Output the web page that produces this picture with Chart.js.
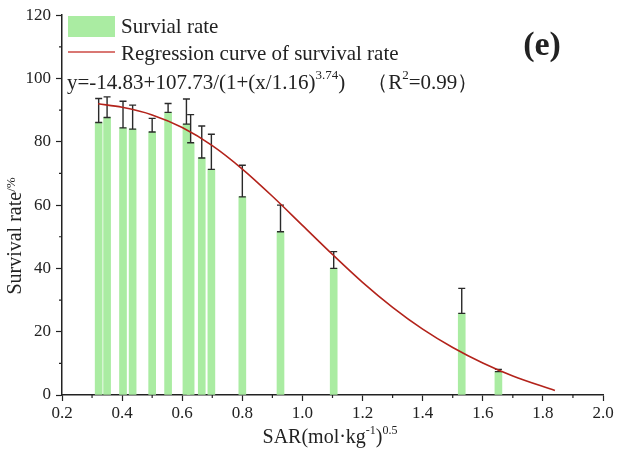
<!DOCTYPE html>
<html lang="en">
<head>
<meta charset="UTF-8">
<title>Survival rate vs SAR</title>
<script src="https://cdn.jsdelivr.net/npm/chart.js"></script>
<style>
  html, body { margin: 0; padding: 0; background: #fff; }
  #wrap { width: 640px; height: 451px; }
</style>
</head>
<body>
<div id="wrap"><canvas id="sar_chart" width="640" height="451"></canvas></div>
<script>
// bar positions (SAR) and survival rate (bar top), plus the upper end of each error bar
const sarX     = [0.322, 0.350, 0.403, 0.435, 0.500, 0.553, 0.614, 0.628, 0.665, 0.697, 0.800, 0.927, 1.104, 1.530, 1.652];
const survival = [86.1, 87.7, 84.4, 84.0, 83.1, 89.3, 85.6, 79.7, 74.9, 71.3, 62.6, 51.6, 40.0, 25.8, 7.4];
const errHigh  = [93.7, 94.2, 92.8, 91.6, 87.4, 92.1, 93.5, 88.6, 85.0, 82.4, 72.6, 60.0, 45.3, 33.7, 8.1];

// regression curve
const curveX = [0.32, 0.40, 0.50, 0.60, 0.70, 0.80, 0.90, 1.00, 1.10, 1.20, 1.30, 1.40, 1.50, 1.60, 1.70, 1.84];
const curveY = [92.0, 90.9, 88.5, 84.5, 78.8, 71.4, 62.8, 53.6, 44.4, 35.6, 27.7, 20.8, 15.0, 10.1, 6.0, 1.4];

const xTicks = [0.2, 0.4, 0.6, 0.8, 1.0, 1.2, 1.4, 1.6, 1.8, 2.0];
const yTicks = [0, 20, 40, 60, 80, 100, 120];

const barGreen = "#aaeca2";
const curveRed = "#b3231b";
const serif = "'Liberation Serif', 'DejaVu Serif', serif";

// draws text pieces in a row, some raised as superscripts
function drawRuns(ctx, runs, x, y, size) {
    let cx = x;
    runs.forEach(r => {
        const s = r.sup ? Math.round(size * 0.6) : size;
        ctx.font = s + "px " + serif;
        ctx.fillText(r.t, cx, r.sup ? y - size * 0.36 : y);
        cx += ctx.measureText(r.t).width;
    });
    return cx;
}
function runsWidth(ctx, runs, size) {
    let w = 0;
    runs.forEach(r => {
        ctx.font = (r.sup ? Math.round(size * 0.6) : size) + "px " + serif;
        w += ctx.measureText(r.t).width;
    });
    return w;
}

const extras = {
    id: "extras",
    afterDatasetDraw(chart, args) {
        if (args.index !== 1) return;
        // error bars on top of the green bars
        const ctx = chart.ctx, xs = chart.scales.x, ys = chart.scales.y;
        ctx.save();
        ctx.strokeStyle = "#2a2a2a";
        ctx.lineWidth = 1.4;
        sarX.forEach((v, i) => {
            const px = xs.getPixelForValue(v);
            const lo = ys.getPixelForValue(survival[i]);
            const hi = ys.getPixelForValue(errHigh[i]);
            ctx.beginPath();
            ctx.moveTo(px, lo); ctx.lineTo(px, hi);
            ctx.moveTo(px - 3.5, lo); ctx.lineTo(px + 3.5, lo);
            ctx.moveTo(px - 3.5, hi); ctx.lineTo(px + 3.5, hi);
            ctx.stroke();
        });
        ctx.restore();
    },
    afterDraw(chart) {
        const ctx = chart.ctx, xs = chart.scales.x, ys = chart.scales.y;
        const area = chart.chartArea;
        ctx.save();
        // minor ticks
        ctx.strokeStyle = "#222";
        ctx.lineWidth = 1.2;
        ctx.beginPath();
        for (let i = 0; i < xTicks.length - 1; i++) {
            const px = xs.getPixelForValue((xTicks[i] + xTicks[i + 1]) / 2);
            ctx.moveTo(px, area.bottom); ctx.lineTo(px, area.bottom + 3);
        }
        for (let i = 0; i < yTicks.length - 1; i++) {
            const py = ys.getPixelForValue((yTicks[i] + yTicks[i + 1]) / 2);
            ctx.moveTo(area.left, py); ctx.lineTo(area.left - 3, py);
        }
        ctx.stroke();

        // legend
        ctx.fillStyle = barGreen;
        ctx.fillRect(68, 16, 47, 21);
        ctx.strokeStyle = "#cc4a44";
        ctx.lineWidth = 1.5;
        ctx.beginPath(); ctx.moveTo(68, 52); ctx.lineTo(115, 52); ctx.stroke();
        ctx.fillStyle = "#222";
        ctx.textBaseline = "middle";
        ctx.textAlign = "left";
        ctx.font = "21px " + serif;
        ctx.fillText("Survial rate", 121, 27);
        ctx.fillText("Regression curve of survival rate", 121, 54);

        // fitted equation
        const eq = drawRuns(ctx, [
            { t: "y=-14.83+107.73/(1+(x/1.16)" }, { t: "3.74", sup: true }, { t: ")" }
        ], 67, 83, 21);
        drawRuns(ctx, [{ t: "（R" }, { t: "2", sup: true }, { t: "=0.99）" }], eq + 22, 83, 21);

        // panel letter
        ctx.font = "bold 34px " + serif;
        ctx.textAlign = "center";
        ctx.fillText("(e)", 542, 46);

        // x axis title
        const xt = [{ t: "SAR(mol·kg" }, { t: "-1", sup: true }, { t: ")" }, { t: "0.5", sup: true }];
        ctx.textAlign = "left";
        const w = runsWidth(ctx, xt, 20);
        drawRuns(ctx, xt, 330 - w / 2, 438, 20);

        // y axis title
        ctx.translate(16, 236);
        ctx.rotate(-Math.PI / 2);
        ctx.font = "20px " + serif;
        const a = ctx.measureText("Survival rate").width;
        ctx.font = "13px " + serif;
        const b = ctx.measureText("/%").width;
        ctx.font = "20px " + serif;
        ctx.fillText("Survival rate", -(a + b) / 2, 0);
        ctx.font = "13px " + serif;
        ctx.fillText("/%", -(a + b) / 2 + a, -4);
        ctx.restore();
    }
};

new Chart("sar_chart", {
    type: "bar",
    data: {
        datasets: [
            {
                type: "line",
                data: curveX.map((x, i) => ({ x: x, y: curveY[i] })),
                borderColor: curveRed,
                borderWidth: 1.6,
                pointRadius: 0,
                cubicInterpolationMode: "monotone",
                fill: false
            },
            {
                type: "bar",
                data: sarX.map((x, i) => ({ x: x, y: survival[i] })),
                backgroundColor: barGreen,
                borderWidth: 0,
                barThickness: 7
            }
        ]
    },
    options: {
        responsive: false,
        animation: false,
        layout: { padding: { top: 15, right: 37, left: 0, bottom: 0 } },
        plugins: { legend: { display: false }, tooltip: { enabled: false } },
        scales: {
            x: {
                type: "linear",
                min: 0.2,
                max: 2.0,
                offset: false,
                afterBuildTicks: s => { s.ticks = xTicks.map(v => ({ value: v })); },
                afterFit: s => { s.height = 56; },
                grid: { offset: false, drawOnChartArea: false, tickLength: 6, tickColor: "#222", tickWidth: 1.2 },
                border: { color: "#222", width: 1.5 },
                ticks: {
                    color: "#222",
                    padding: 2,
                    font: { family: serif, size: 17 },
                    callback: v => v.toFixed(1)
                }
            },
            y: {
                min: 0,
                max: 120,
                afterBuildTicks: s => { s.ticks = yTicks.map(v => ({ value: v })); },
                afterFit: s => { s.width = 62; },
                grid: { drawOnChartArea: false, tickLength: 6, tickColor: "#222", tickWidth: 1.2 },
                border: { color: "#222", width: 1.5 },
                ticks: {
                    color: "#222",
                    padding: 5,
                    font: { family: serif, size: 17 }
                }
            }
        }
    },
    plugins: [extras]
});
</script>
</body>
</html>
